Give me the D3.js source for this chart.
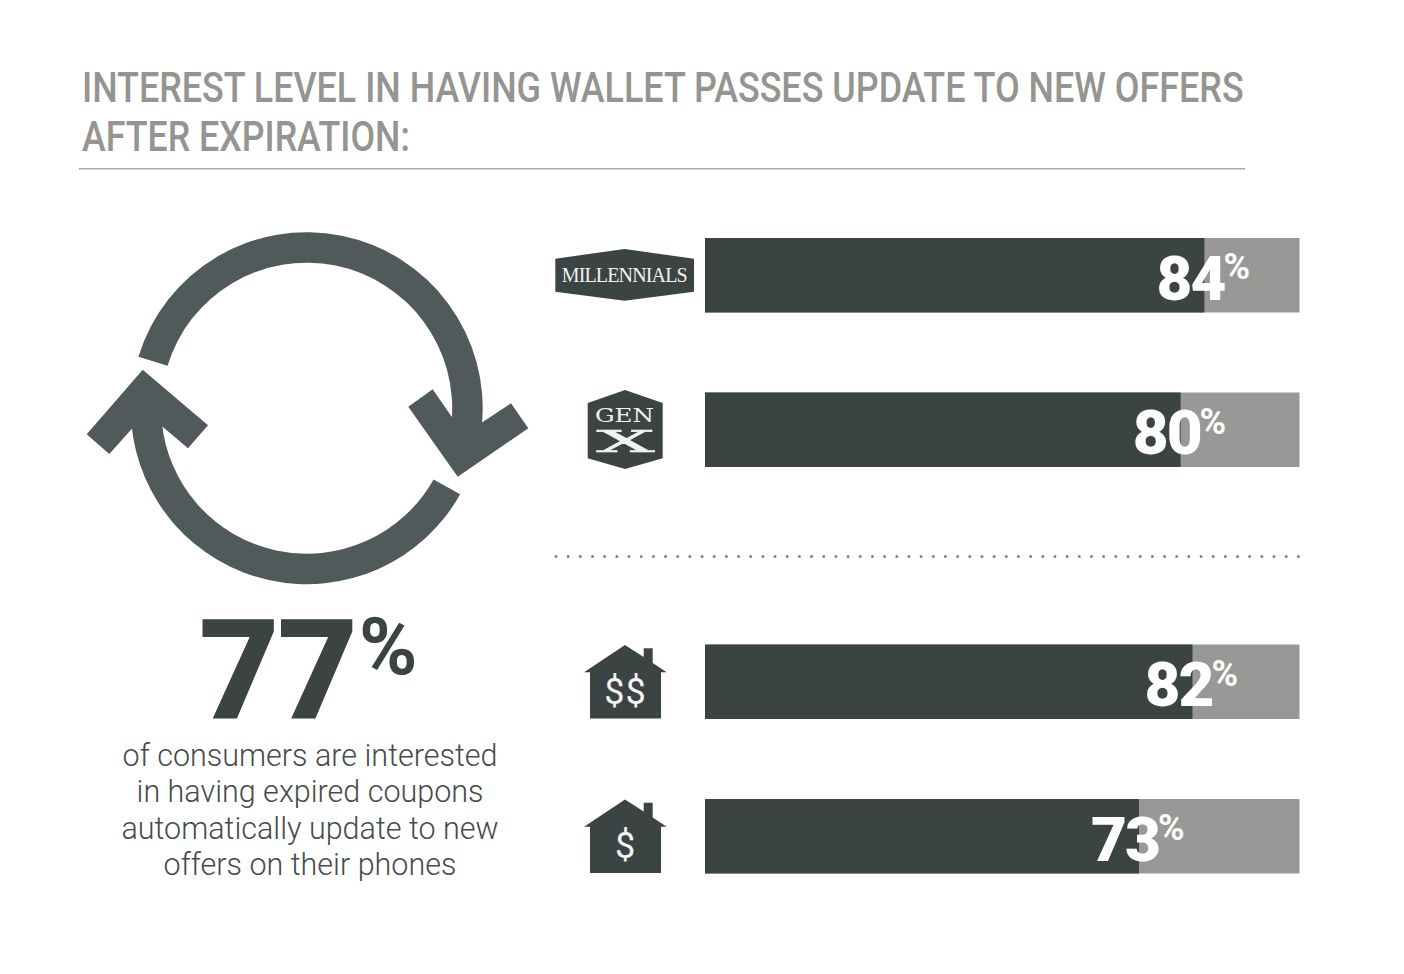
<!DOCTYPE html>
<html lang="en">

<head>
    <meta charset="UTF-8">
    <title>Wallet passes</title>
    <script src="https://d3js.org/d3.v7.min.js"></script>
    <style>
        body {
            margin: 0;
            background: #fff;
            overflow: hidden;
        }

        svg {
            display: block;
            font-family: Roboto, sans-serif;
        }
    </style>
</head>

<body>
    <script>
        // values
        var categories = ["Millennials", "Gen X", "High income", "Low income"];
        var interested = [84, 80, 82, 73];
        var valueLabels = ["84", "80", "82", "73"];
        var titleLines = ["INTEREST LEVEL IN HAVING WALLET PASSES UPDATE TO NEW OFFERS", "AFTER EXPIRATION:"];
        var bodyLines = ["of consumers are interested", "in having expired coupons", "automatically update to new", "offers on their phones"];
        var overallValue = "77";

        var dark = "#3c4443",
            light = "#989897",
            arrowColor = "#505a5b",
            titleColor = "#959490",
            bodyColor = "#454b4b",
            iconText = "#f2f2f0";

        var svg = d3.select("body").append("svg")
            .attr("width", 1404)
            .attr("height", 974);

        // Title, squeezed to look condensed
        var titleWidths = [1162, 328];
        svg.append("g").selectAll("text")
            .data(titleLines)
            .enter().append("text")
            .attr("font-size", 43)
            .attr("font-weight", 500)
            .attr("fill", titleColor)
            .text(d => d)
            .attr("transform", function(d, i) {
                var sx = titleWidths[i] / this.getComputedTextLength();
                return `translate(82,${101.5 + i * 49}) scale(${sx},1)`;
            });

        svg.append("line")
            .attr("x1", 79).attr("x2", 1245)
            .attr("y1", 168.8).attr("y2", 168.8)
            .attr("stroke", "#a9a9a7")
            .attr("stroke-width", 1.6);

        // Bars
        var x = d3.scaleLinear().domain([0, 100]).range([705, 1299.5]);
        var y = d3.scaleOrdinal().domain(categories).range([238, 392.5, 644.5, 799]);
        var barH = 74.5;

        var rows = svg.append("g").selectAll("g")
            .data(categories)
            .enter().append("g")
            .attr("transform", d => `translate(0,${y(d)})`);

        rows.append("rect")
            .attr("x", x(0))
            .attr("width", x(100) - x(0))
            .attr("height", barH)
            .attr("fill", light);

        rows.append("rect")
            .attr("x", x(0))
            .attr("width", (d, i) => x(interested[i]) - x(0))
            .attr("height", barH)
            .attr("fill", dark);

        rows.append("text")
            .attr("x", (d, i) => x(interested[i]) + 20)
            .attr("y", 61.5)
            .attr("text-anchor", "end")
            .attr("font-size", 62)
            .attr("font-weight", 900)
            .attr("letter-spacing", -2)
            .attr("fill", "#fff")
            .text((d, i) => valueLabels[i]);

        rows.append("text")
            .attr("x", (d, i) => x(interested[i]) + 19)
            .attr("y", 41)
            .attr("font-size", 36)
            .attr("font-weight", 700)
            .attr("fill", "#fff")
            .text("%");

        // Dotted divider
        svg.append("line")
            .attr("x1", 556).attr("x2", 1301)
            .attr("y1", 556.5).attr("y2", 556.5)
            .attr("stroke", "#7f8484")
            .attr("stroke-width", 3)
            .attr("stroke-linecap", "round")
            .attr("stroke-dasharray", "0 12.17");

        // Row icons
        var polygon = d3.line();
        var icons = svg.append("g");

        icons.append("path")
            .attr("d", polygon([[555.3, 258.7], [624.5, 249], [694, 258.7], [694, 291.7], [624.5, 300.7], [555.3, 291.7]]) + "Z")
            .attr("fill", dark);
        icons.append("text")
            .attr("x", 561.7).attr("y", 282)
            .attr("font-family", "'Liberation Serif', serif")
            .attr("font-size", 20)
            .attr("textLength", 126)
            .attr("lengthAdjust", "spacing")
            .attr("fill", iconText)
            .text("MILLENNIALS");

        icons.append("path")
            .attr("d", polygon([[625, 390], [662.7, 403], [662.7, 458.3], [625, 469], [587.7, 458.3], [587.7, 403]]) + "Z")
            .attr("fill", dark);
        icons.append("text")
            .attr("x", 595).attr("y", 422.3)
            .attr("font-family", "'DejaVu Serif', serif")
            .attr("font-size", 19)
            .attr("textLength", 59)
            .attr("lengthAdjust", "spacingAndGlyphs")
            .attr("fill", iconText)
            .text("GEN");
        icons.append("text")
            .attr("x", 596.5).attr("y", 451.7)
            .attr("font-family", "'DejaVu Serif', serif")
            .attr("font-size", 30)
            .attr("textLength", 58)
            .attr("lengthAdjust", "spacingAndGlyphs")
            .attr("stroke", iconText)
            .attr("stroke-width", 0.6)
            .attr("fill", iconText)
            .text("X");

        [[645, "$$"], [799.5, "$"]].forEach(function(h) {
            var g = icons.append("g").attr("transform", `translate(0,${h[0]})`);
            g.append("path")
                .attr("d", polygon([[625, 0], [643.7, 12], [643.7, 3.3], [652.7, 3.3], [652.7, 18], [666.7, 27.3], [661, 27.3], [661, 73.5], [590, 73.5], [590, 27.3], [584, 27.3]]) + "Z")
                .attr("fill", dark);
            g.append("text")
                .attr("x", 625.5).attr("y", 58.5)
                .attr("text-anchor", "middle")
                .attr("font-size", 36)
                .attr("font-weight", 400)
                .attr("letter-spacing", 1)
                .attr("fill", "#f4f4f2")
                .text(h[1]);
        });

        // Refresh arrows
        var cx = 306.7,
            cy = 408.2;
        var ring = d3.arc().innerRadius(145.5).outerRadius(176);
        var rad = Math.PI / 180;
        var arrows = svg.append("g").attr("fill", arrowColor);

        arrows.append("path")
            .attr("transform", `translate(${cx},${cy})`)
            .attr("d", ring({ startAngle: -73 * rad, endAngle: 96 * rad }));
        arrows.append("path")
            .attr("transform", `translate(${cx},${cy})`)
            .attr("d", ring({ startAngle: 119.3 * rad, endAngle: 265 * rad }));
        arrows.append("path")
            .attr("d", polygon([[408.3, 406.7], [432.7, 389.3], [451.7, 416.7], [482.3, 422.3], [511, 403.3], [528.3, 428.3], [457.7, 476.7]]) + "Z");
        arrows.append("path")
            .attr("d", polygon([[142.7, 369.7], [208, 425.3], [188, 448.3], [161.7, 426], [131.7, 429], [109.3, 454], [86.7, 434.3]]) + "Z");

        // Overall figure
        svg.append("text")
            .attr("x", 199).attr("y", 718)
            .attr("font-size", 139)
            .attr("font-weight", 900)
            .attr("letter-spacing", -2)
            .attr("fill", dark)
            .text(overallValue);
        svg.append("text")
            .attr("x", 359).attr("y", 674)
            .attr("font-size", 79)
            .attr("font-weight", 700)
            .attr("fill", dark)
            .text("%");

        svg.append("g").selectAll("text")
            .data(bodyLines)
            .enter().append("text")
            .attr("x", 310)
            .attr("y", (d, i) => 765.5 + i * 36.6)
            .attr("text-anchor", "middle")
            .attr("font-size", 30.5)
            .attr("font-weight", 300)
            .attr("fill", bodyColor)
            .text(d => d);
    </script>
</body>

</html>
